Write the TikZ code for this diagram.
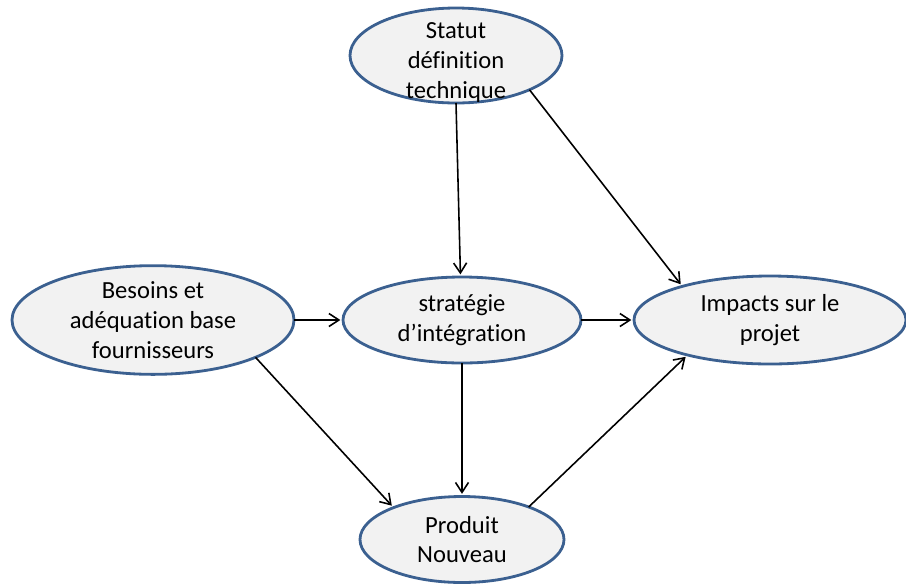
\documentclass[tikz,border=0pt]{standalone}
\usepackage{fontspec}
\setmainfont{Carlito}[Ligatures={NoCommon}]
\usetikzlibrary{shapes.geometric,arrows.meta}
\definecolor{bord}{HTML}{3B6090}
\definecolor{fond}{HTML}{F2F2F2}
\tikzset{
  bulle/.style={ellipse, draw=bord, fill=fond, line width=1.6pt, inner sep=0pt,
    outer sep=0pt, align=center, font=\fontsize{14}{17}\selectfont},
  fleche/.style={line width=0.9pt, -{Straight Barb[length=2mm,width=2.6mm]}, shorten >=1.5pt}
}
\begin{document}
\begin{tikzpicture}
      \useasboundingbox (0,0) rectangle (18.12,-11.68);
      \node[bulle, inner ysep=-20pt, minimum width=4.24cm, minimum height=1.9cm] (statut) at (9.12,-1.11)
        {\rule{0pt}{17pt}Statut\\définition\\technique};
      \node[bulle, minimum width=5.64cm, minimum height=2.04cm] (besoins) at (3.06,-6.40)
        {Besoins et\\adéquation base\\fournisseurs};
      \node[bulle, minimum width=4.76cm, minimum height=1.72cm] (strategie) at (9.24,-6.40)
        {stratégie\\d’intégration};
      \node[bulle, minimum width=5.44cm, minimum height=1.76cm] (impacts) at (15.40,-6.40)
        {Impacts sur le\\projet};
      \node[bulle, minimum width=4.08cm, minimum height=1.72cm] (produit) at (9.24,-10.79)
        {Produit\\Nouveau};
      \begin{scope}[fleche]
        \draw (statut.-90) to (strategie.92);
        \draw (statut.-25) to (impacts.159);
        \draw (besoins.0) to (strategie.180);
        \draw (strategie.0) to (impacts.180);
        \draw (besoins.-20) to (produit.155);
        \draw (strategie.-90) to (produit.90);
        \draw (produit.26) to (impacts.203);
      \end{scope}
    \end{tikzpicture}
\end{document}
